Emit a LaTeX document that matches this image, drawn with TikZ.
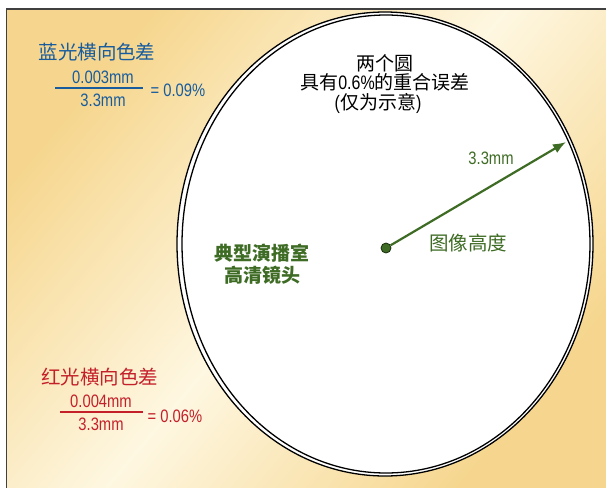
\documentclass[tikz,border=0pt]{standalone}
\usepackage{fontspec}
\setmainfont{Liberation Sans}[FakeStretch=0.82]
\newfontfamily\cjk{Noto Sans CJK SC}
\usetikzlibrary{arrows.meta}
\definecolor{bgyellow}{RGB}{246,214,142}
\definecolor{bgcream}{RGB}{254,247,225}
\definecolor{lensblue}{RGB}{24,92,158}
\definecolor{lensred}{RGB}{196,32,42}
\definecolor{lensgreen}{RGB}{62,108,36}
\tikzset{
    every node/.style={inner sep=0mm, font=\fontsize{18}{20}\selectfont},
    han/.style={font=\fontsize{19.5}{20}\selectfont\cjk},
    ring/.style={draw=black, line width=1.3pt}
}

\begin{document}
\begin{tikzpicture}[x=1pt, y=-1pt]
    \useasboundingbox (0,0) rectangle (606,488);
    \fill[white] (0,0) rectangle (606,488);
    \shade[top color=bgyellow, bottom color=bgyellow, middle color=bgcream, shading angle=50] (7,9) rectangle (606,488);
    \draw[black!75, line width=1.5pt] (6.5,488) -- (6.5,9) -- (606,9);

    % the two circles
    \draw[ring, fill=white] (385,244) ellipse [x radius=208, y radius=232];
    \draw[ring] (386,244) ellipse [x radius=204, y radius=229];

    \node (title) at (385,63) {{\cjk\fontsize{19}{20}\selectfont 两个圆}};
    \node (overlap) [font=\fontsize{19.5}{20}\selectfont] at (385,82) {{\cjk\fontsize{19}{20}\selectfont 具有}0.6\%{\cjk\fontsize{19}{20}\selectfont 的重合误差}};
    \node (note) [font=\fontsize{19.5}{20}\selectfont] at (378,103) {({\cjk\fontsize{19}{20}\selectfont 仅为示意})};

    % blue lateral colour
    \node (blue) [han, text=lensblue] at (97,52) {蓝光横向色差};
    \node (bnum) [text=lensblue] at (103,77) {0.003mm};
    \node (bden) [text=lensblue] at (103,100) {3.3mm};
    \node (bres) [text=lensblue] at (178,90) {= 0.09\%};
    \coordinate (bl) at (55,88);
    \coordinate (br) at (143,88);
    \draw[lensblue, line width=1.4pt] (bl) -- (br);

    % red lateral colour
    \node (red) [han, text=lensred] at (100,377) {红光横向色差};
    \node (rnum) [text=lensred] at (101,401) {0.004mm};
    \node (rden) [text=lensred] at (101,424) {3.3mm};
    \node (rres) [text=lensred] at (175,416) {= 0.06\%};
    \coordinate (rl) at (60,412);
    \coordinate (rr) at (143,412);
    \draw[lensred, line width=1.4pt] (rl) -- (rr);

    % image height
    \node (lens) [text=lensgreen, align=center, font=\fontsize{19}{22}\selectfont\cjk\bfseries] at (262,264) {典型演播室\\高清镜头};
    \node (ctr) [circle, fill=lensgreen, draw=black!60!lensgreen, line width=0.8pt, minimum size=10pt] at (386,248) {};
    \coordinate (tip) at (566,142);
    \draw[lensgreen, line width=2.2pt, -{Latex[length=13pt, width=10pt]}] (ctr) -- (tip);
    \node (radius) [text=lensgreen] at (491,158) {3.3mm};
    \node (height) [han, text=lensgreen] at (468,243) {图像高度};
\end{tikzpicture}
\end{document}
